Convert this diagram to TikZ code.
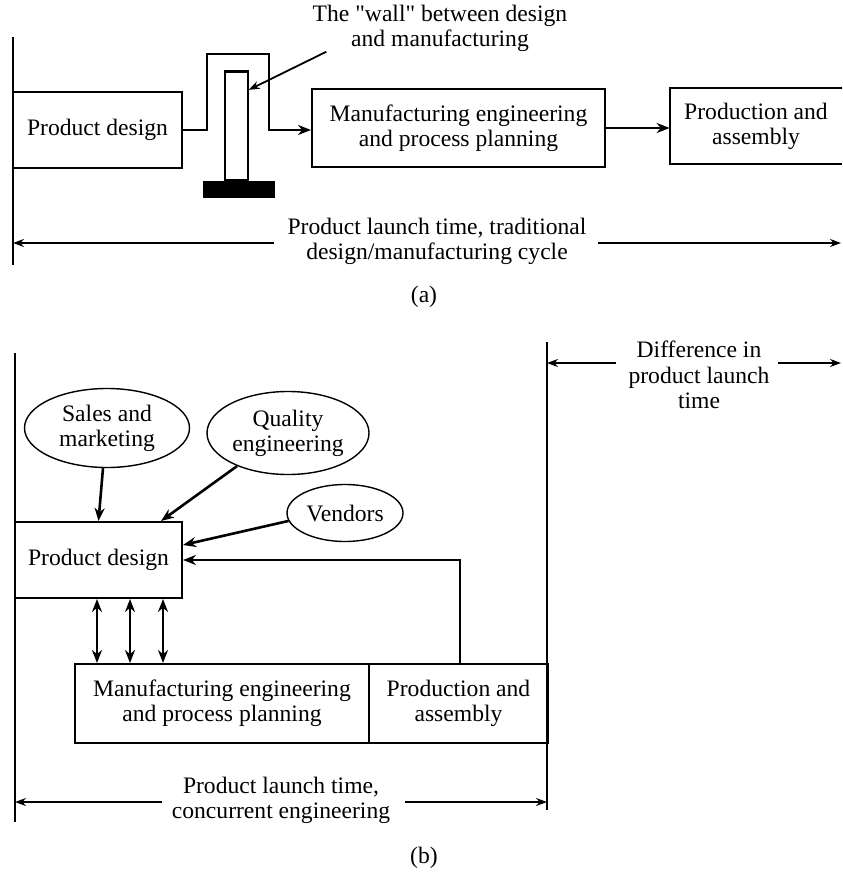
\documentclass[tikz,border=0pt]{standalone}
\usepackage{fontspec}
\setmainfont{Liberation Serif}
\newcommand\straightq{\XeTeXglyph\XeTeXglyphindex "quotedbl"\relax}
\usetikzlibrary{arrows.meta,shapes.geometric,calc}
\begin{document}
\begin{tikzpicture}[x=0.5pt,y=-0.5pt,
  font=\fontsize{11.8}{12.6}\selectfont,
  box/.style={draw,line width=1pt,inner sep=0pt,align=center},
  oval/.style={draw,ellipse,line width=0.7pt,inner sep=0pt,align=center},
  conn/.style={line width=1.3pt,-{Stealth[length=6.5pt,width=5pt]}},
  dconn/.style={line width=1.3pt,{Stealth[length=6.5pt,width=5pt]}-{Stealth[length=6.5pt,width=5pt]}},
  dim/.style={line width=0.9pt,-{Stealth[length=5.5pt,width=4pt]}},
  rule/.style={line width=0.9pt},
  lbl/.style={align=center,inner sep=0pt}]
\useasboundingbox (0,0) rectangle (842,877);

% ---------------- (a) ----------------
\coordinate (aTop) at (13,37);
\coordinate (aBot) at (13,265);
\draw[rule] (aTop) -- (aBot);

\node[box,minimum width=84.5pt,minimum height=38pt] (pdA) at (97.5,130) {Product design};
\node[box,minimum width=146.5pt,minimum height=39pt] (mfgA) at (458.5,128) {Manufacturing engineering\\and process planning};
\node[lbl,minimum width=86pt,minimum height=38pt] (prodA) at (756,126) {Production and\\assembly};
\draw[line width=1pt] (prodA.north east) -- (prodA.north west) -- (prodA.south west) -- (prodA.south east);

% the wall
\node[draw,line width=0.7pt,minimum width=11.5pt,minimum height=54pt,inner sep=0pt] (pillar) at (236.5,126) {};
\draw[line width=1.2pt] (pillar.north west) -- (pillar.north east);
\node[fill=black,minimum width=36pt,minimum height=8.5pt,inner sep=0pt] (base) at (239,189.5) {};

\draw[conn] (pdA.east) -- ++(24,0) -- ++(0,-76) -- ++(62,0) -- ++(0,76) -- (mfgA.west |- pdA.east);
\draw[conn] (mfgA.east) -- (mfgA.east -| prodA.west);

\node[lbl] (wallLbl) at (440,28) {The \straightq wall\straightq{} between design\\and manufacturing};
\draw[dim] ($(wallLbl.south west)+(14,0)$) -- ($(pillar.north east)!0.17!(pillar.south east)$);

\node[lbl] (tA) at (437,241) {Product launch time, traditional\\design/manufacturing cycle};
\coordinate (aL) at (13,243);
\coordinate (aR) at (841,243);
\draw[dim] ($(tA.west |- aL)+(-13,0)$) -- (aL);
\draw[dim] ($(tA.east |- aR)+(11,0)$) -- (aR);

\node (capA) at (424,297) {(a)};

% ---------------- (b) ----------------
\coordinate (bTop) at (15,353);
\coordinate (bBot) at (15,822);
\draw[rule] (bTop) -- (bBot);
\coordinate (rTop) at (547,342);
\coordinate (rBot) at (547,810);
\draw[rule] (rTop) -- (rBot);

\node[oval,minimum width=82.5pt,minimum height=39.5pt] (sales) at (107,428) {Sales and\\marketing};
\node[oval,minimum width=81pt,minimum height=41.5pt] (quality) at (288,433) {Quality\\engineering};
\node[oval,minimum width=58pt,minimum height=28.5pt] (vendors) at (345,513) {Vendors};

\node[box,minimum width=83.5pt,minimum height=38pt] (pdB) at (98.5,560) {Product design};
\node[box,minimum width=147pt,minimum height=39.5pt] (mfgB) at (222,703.5) {Manufacturing engineering\\and process planning};
\node[box,minimum width=89.5pt,minimum height=39.5pt] (prodB) at (458.5,703.5) {Production and\\assembly};

\draw[conn] ([xshift=-2pt]sales.south) -- (pdB.north);
\draw[conn] (quality.213) -- ($(pdB.north east)+(-22,0)$);
\draw[conn] (vendors.188) -- ($(pdB.east)+(0,-15)$);
\draw[conn] ($(prodB.north)+(1.5,0)$) |- (pdB.east);

\draw[dconn] ($(pdB.south west)+(83,0)$) -- ($(mfgB.north west)+(23,0)$);
\draw[dconn] ($(pdB.south west)+(116,0)$) -- ($(mfgB.north west)+(56,0)$);
\draw[dconn] ($(pdB.south west)+(149,0)$) -- ($(mfgB.north west)+(89,0)$);

\node[lbl] (diff) at (699,375) {Difference in\\product launch\\time};
\coordinate (dL) at (547,363);
\coordinate (dR) at (841,363);
\draw[dim] ($(diff.west |- dL)+(-12,0)$) -- (dL);
\draw[dim] ($(diff.east |- dR)+(8,0)$) -- (dR);

\node[lbl] (tB) at (281,800) {Product launch time,\\concurrent engineering};
\coordinate (bL) at (15,802);
\coordinate (bR) at (547,802);
\draw[dim] ($(tB.west |- bL)+(-10,0)$) -- (bL);
\draw[dim] ($(tB.east |- bR)+(14,0)$) -- (bR);

\node (capB) at (424,858) {(b)};
\end{tikzpicture}
\end{document}
